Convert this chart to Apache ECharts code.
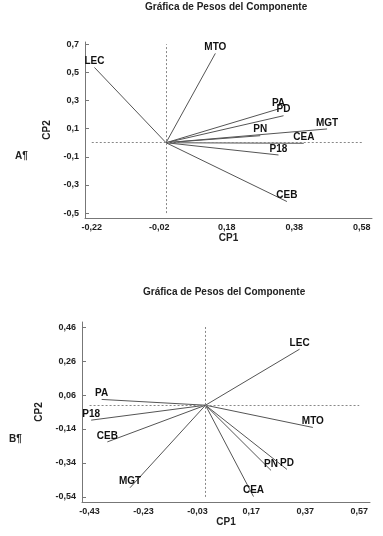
<!DOCTYPE html>
<html>
<head>
<meta charset="utf-8">
<script src="https://cdn.jsdelivr.net/npm/echarts@6/dist/echarts.min.js"></script>
<style>
  html, body { margin: 0; padding: 0; background: #fff; }
  #chart { width: 383px; height: 536px; }
</style>
</head>
<body>
<div id="chart"></div>
<script>
// panel A: variable names and loadings (CP1, CP2)
var namesA = ['LEC', 'MTO', 'PA', 'PD', 'MGT', 'PN', 'CEA', 'P18', 'CEB'];
var cp1A = [-0.212, 0.146, 0.333, 0.348, 0.477, 0.279, 0.408, 0.333, 0.358];
var cp2A = [0.535, 0.635, 0.240, 0.192, 0.098, 0.050, -0.004, -0.087, -0.418];
var ticksXA = [-0.22, -0.02, 0.18, 0.38, 0.58];
var ticksYA = [-0.5, -0.3, -0.1, 0.1, 0.3, 0.5, 0.7];

// panel B
var namesB = ['LEC', 'PA', 'P18', 'CEB', 'MGT', 'MTO', 'PN', 'PD', 'CEA'];
var cp1B = [0.349, -0.385, -0.424, -0.364, -0.280, 0.398, 0.243, 0.302, 0.178];
var cp2B = [0.330, 0.034, -0.088, -0.216, -0.486, -0.131, -0.384, -0.378, -0.538];
var ticksXB = [-0.43, -0.23, -0.03, 0.17, 0.37, 0.57];
var ticksYB = [-0.54, -0.34, -0.14, 0.06, 0.26, 0.46];

var titleText = 'Gráfica de Pesos del Componente';
var font = 'Liberation Sans, Arial, sans-serif';

function fmt(d) {
  return function (v) { return v.toFixed(d).replace('.', ','); };
}

function mkX(idx, min, max, ticks) {
  return {
    type: 'value', gridIndex: idx, min: min, max: max,
    name: 'CP1', nameLocation: 'middle', nameGap: 15,
    nameTextStyle: { fontFamily: font, fontSize: 10, fontWeight: 'bold', color: '#222' },
    splitLine: { show: false },
    axisLine: { onZero: false, lineStyle: { color: '#777' } },
    axisTick: { show: false },
    axisLabel: {
      customValues: ticks, formatter: fmt(2), margin: 5,
      fontFamily: font, fontSize: 9, fontWeight: 'bold', color: '#222'
    }
  };
}

function mkY(idx, min, max, ticks, dec, gap) {
  return {
    type: 'value', gridIndex: idx, min: min, max: max,
    name: 'CP2', nameLocation: 'middle', nameGap: gap, nameRotate: 90,
    nameTextStyle: { fontFamily: font, fontSize: 10, fontWeight: 'bold', color: '#222' },
    splitLine: { show: false },
    axisLine: { onZero: false, lineStyle: { color: '#777' } },
    axisTick: { show: true, inside: true, length: 4, customValues: ticks, lineStyle: { color: '#777' } },
    axisLabel: {
      customValues: ticks, formatter: fmt(dec), margin: 6,
      fontFamily: font, fontSize: 9, fontWeight: 'bold', color: '#222'
    }
  };
}

function vectors(idx, names, xs, ys, xr, yr) {
  var data = names.map(function (n, i) { return [xs[i], ys[i], n]; });
  return {
    type: 'custom', xAxisIndex: idx, yAxisIndex: idx, data: data,
    renderItem: function (params, api) {
      var p0 = api.coord([0, 0]);
      var p1 = api.coord([api.value(0), api.value(1)]);
      return {
        type: 'group',
        children: [
          { type: 'line', shape: { x1: p0[0], y1: p0[1], x2: p1[0], y2: p1[1] },
            style: { stroke: '#555', lineWidth: 1 } },
          { type: 'text', x: p1[0], y: p1[1] - 1,
            style: { text: data[params.dataIndex][2], align: 'center', verticalAlign: 'bottom',
                     font: 'bold 10px ' + font, fill: '#111' } }
        ]
      };
    },
    markLine: {
      silent: true, symbol: 'none', label: { show: false },
      lineStyle: { type: [2, 2], color: '#888', width: 1 },
      data: [
        [{ coord: [0, yr[0]] }, { coord: [0, yr[1]] }],
        [{ coord: [xr[0], 0] }, { coord: [xr[1], 0] }]
      ]
    }
  };
}

var chart = echarts.init(document.getElementById('chart'));
chart.setOption({
  animation: false,
  backgroundColor: '#fff',
  title: [
    { text: titleText, left: 145, top: 2, padding: 0,
      textStyle: { fontFamily: font, fontSize: 10, fontWeight: 'bold', color: '#222' } },
    { text: titleText, left: 143, top: 287, padding: 0,
      textStyle: { fontFamily: font, fontSize: 10, fontWeight: 'bold', color: '#222' } }
  ],
  graphic: [
    { type: 'text', left: 15, top: 151, style: { text: 'A¶', font: 'bold 10px ' + font, fill: '#222' } },
    { type: 'text', left: 9, top: 434, style: { text: 'B¶', font: 'bold 10px ' + font, fill: '#222' } }
  ],
  grid: [
    { left: 85, top: 42, width: 287, height: 176 },
    { left: 82, top: 322, width: 288, height: 180 }
  ],
  xAxis: [
    mkX(0, -0.24, 0.61, ticksXA),
    mkX(1, -0.458, 0.61, ticksXB)
  ],
  yAxis: [
    mkY(0, -0.535, 0.716, ticksYA, 1, 27),
    mkY(1, -0.57, 0.49, ticksYB, 2, 31)
  ],
  series: [
    vectors(0, namesA, cp1A, cp2A, [ticksXA[0], ticksXA[4]], [ticksYA[0], ticksYA[6]]),
    vectors(1, namesB, cp1B, cp2B, [ticksXB[0], ticksXB[5]], [ticksYB[0], ticksYB[5]])
  ]
});
</script>
</body>
</html>
